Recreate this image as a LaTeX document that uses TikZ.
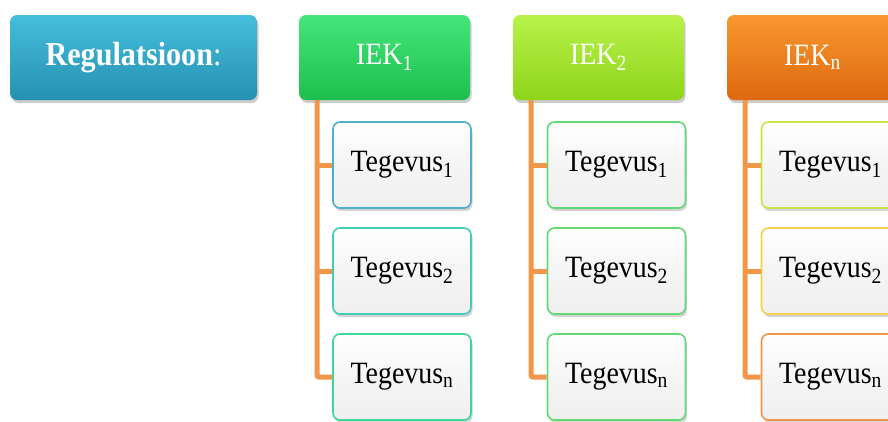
\documentclass[tikz,border=0pt]{standalone}
\usepackage{fontspec}
\setmainfont{Liberation Serif}[FakeStretch=0.9]
\usetikzlibrary{shadows}
\definecolor{regtop}{HTML}{45BEDC}
\definecolor{regbot}{HTML}{2590B2}
\definecolor{g1top}{HTML}{45E67A}
\definecolor{g1bot}{HTML}{1EBE4E}
\definecolor{g2top}{HTML}{B8F24A}
\definecolor{g2bot}{HTML}{8ED41A}
\definecolor{gntop}{HTML}{F8982E}
\definecolor{gnbot}{HTML}{DE6810}
\definecolor{linec}{HTML}{F2964A}
\definecolor{cA}{HTML}{4FAFCC}
\definecolor{cB}{HTML}{42CDB8}
\definecolor{cC}{HTML}{3FD69A}
\definecolor{cD}{HTML}{62DA72}
\definecolor{cE}{HTML}{C6E446}
\definecolor{cF}{HTML}{F2D24A}
\definecolor{cG}{HTML}{F29448}
\tikzset{
  headbox/.style={draw=none, rounded corners=7pt, minimum height=85pt,
    text=white, font=\fontsize{31}{34}\selectfont,
    drop shadow={shadow xshift=1.5pt, shadow yshift=-3pt, opacity=0.4}},
  childbox/.style={rounded corners=7pt, line width=1.6pt, minimum width=138pt,
    minimum height=86pt, top color=white, bottom color=black!6, middle color=black!4,
    font=\fontsize{31}{34}\selectfont,
    drop shadow={shadow xshift=1.5pt, shadow yshift=-3pt, opacity=0.35}},
  branch/.style={linec, line width=5pt}
}
\begin{document}
\begin{tikzpicture}[x=1pt,y=-1pt]
\useasboundingbox (0,0) rectangle (888,421);
\clip (0,0) rectangle (888,421);
% head boxes
\node[headbox, minimum width=247pt, top color=regtop, bottom color=regbot,
  font=\fontsize{33.5}{36}\selectfont] (reg) at (133.5,57.5)
  {\textbf{Regulatsioon}:};
\node[headbox, minimum width=171pt, top color=g1top, bottom color=g1bot] (iek1) at (384.5,57.5)
  {IEK\textsubscript{1}};
\node[headbox, minimum width=171pt, top color=g2top, bottom color=g2bot] (iek2) at (598.5,57.5)
  {IEK\textsubscript{2}};
\node[headbox, minimum width=171pt, top color=gntop, bottom color=gnbot] (iekn) at (812.5,57.5)
  {IEK\textsubscript{n}};
% trunk starts
\coordinate (t1) at (317,100);
\coordinate (t2) at (531,100);
\coordinate (tn) at (745,100);
% child boxes
\node[childbox, draw=cA] (a1) at (402,165) {Tegevus\textsubscript{1}};
\node[childbox, draw=cB] (a2) at (402,271) {Tegevus\textsubscript{2}};
\node[childbox, draw=cC] (a3) at (402,377) {Tegevus\textsubscript{n}};
\node[childbox, draw=cD] (b1) at (616.5,165) {Tegevus\textsubscript{1}};
\node[childbox, draw=cD] (b2) at (616.5,271) {Tegevus\textsubscript{2}};
\node[childbox, draw=cD] (b3) at (616.5,377) {Tegevus\textsubscript{n}};
\node[childbox, draw=cE] (c1) at (830.5,165) {Tegevus\textsubscript{1}};
\node[childbox, draw=cF] (c2) at (830.5,271) {Tegevus\textsubscript{2}};
\node[childbox, draw=cG] (c3) at (830.5,377) {Tegevus\textsubscript{n}};
% connectors
\draw[branch, rounded corners=2pt] (t1) |- (a3.west);
\draw[branch] (t1 |- a1.west) -- (a1.west);
\draw[branch] (t1 |- a2.west) -- (a2.west);
\draw[branch, rounded corners=2pt] (t2) |- (b3.west);
\draw[branch] (t2 |- b1.west) -- (b1.west);
\draw[branch] (t2 |- b2.west) -- (b2.west);
\draw[branch, rounded corners=2pt] (tn) |- (c3.west);
\draw[branch] (tn |- c1.west) -- (c1.west);
\draw[branch] (tn |- c2.west) -- (c2.west);
\end{tikzpicture}
\end{document}
